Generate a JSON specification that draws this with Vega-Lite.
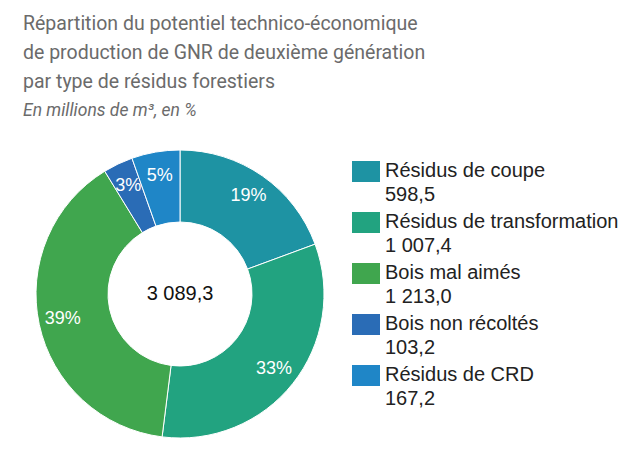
{
  "$schema": "https://vega.github.io/schema/vega-lite/v6.json",
  "width": 288,
  "height": 288,
  "autosize": {"type": "none"},
  "padding": {"left": 36, "top": 150, "right": 315, "bottom": 23},
  "background": "white",
  "config": {"style": {"guide-label": {"lineHeight": 24}}},
  "title": {
    "text": ["Répartition du potentiel technico-économique", "de production de GNR de deuxième génération", "par type de résidus forestiers"],
    "subtitle": "En millions de m³, en %",
    "anchor": "start",
    "frame": "group",
    "dx": -13,
    "font": "Roboto",
    "fontSize": 19.5,
    "fontWeight": "normal",
    "color": "#6b6b6b",
    "lineHeight": 29,
    "subtitleFont": "Roboto",
    "subtitleFontSize": 17.5,
    "subtitleFontStyle": "italic",
    "subtitleColor": "#6b6b6b",
    "subtitlePadding": 9,
    "offset": 28
  },
  "data": {
    "values": [
      {"type": "Résidus de coupe|598,5", "valeur": 598.5, "pct": "19%", "ordre": 1},
      {"type": "Résidus de transformation|1 007,4", "valeur": 1007.4, "pct": "33%", "ordre": 2},
      {"type": "Bois mal aimés|1 213,0", "valeur": 1213.0, "pct": "39%", "ordre": 3},
      {"type": "Bois non récoltés|103,2", "valeur": 103.2, "pct": "3%", "ordre": 4},
      {"type": "Résidus de CRD|167,2", "valeur": 167.2, "pct": "5%", "ordre": 5}
    ]
  },
  "layer": [
    {
      "mark": {"type": "arc", "innerRadius": 72, "outerRadius": 144, "stroke": "white", "strokeWidth": 1},
      "encoding": {
        "theta": {"field": "valeur", "type": "quantitative", "stack": true},
        "order": {"field": "ordre", "type": "quantitative"},
        "color": {
          "field": "type",
          "type": "nominal",
          "sort": null,
          "scale": {
            "domain": ["Résidus de coupe|598,5", "Résidus de transformation|1 007,4", "Bois mal aimés|1 213,0", "Bois non récoltés|103,2", "Résidus de CRD|167,2"],
            "range": ["#1e93a3", "#22a380", "#40a64e", "#2a6cb6", "#1f86c7"]
          },
          "legend": {
            "orient": "none",
            "legendX": 316,
            "legendY": 13,
            "title": null,
            "padding": 0,
            "symbolType": "M-1,-1.143H1V0.357H-1Z",
            "symbolSize": 784,
            "symbolStrokeWidth": 0,
            "symbolOpacity": 1,
            "labelFont": "Liberation Sans",
            "labelFontSize": 20,
            "labelColor": "#222222",
            "labelOffset": 5,
            "labelLimit": 400,
            "rowPadding": 6,
            "labelBaseline": "alphabetic",
            "labelExpr": "split(datum.label, '|')"
          }
        }
      }
    },
    {
      "mark": {"type": "text", "radius": 120, "fontSize": 18, "color": "white", "font": "Liberation Sans"},
      "encoding": {
        "theta": {"field": "valeur", "type": "quantitative", "stack": true},
        "order": {"field": "ordre", "type": "quantitative"},
        "text": {"field": "pct", "type": "nominal"}
      }
    },
    {
      "data": {"values": [{"total": "3 089,3"}]},
      "mark": {"type": "text", "fontSize": 20, "font": "Liberation Sans", "color": "#111111"},
      "encoding": {"text": {"field": "total", "type": "nominal"}}
    }
  ]
}
